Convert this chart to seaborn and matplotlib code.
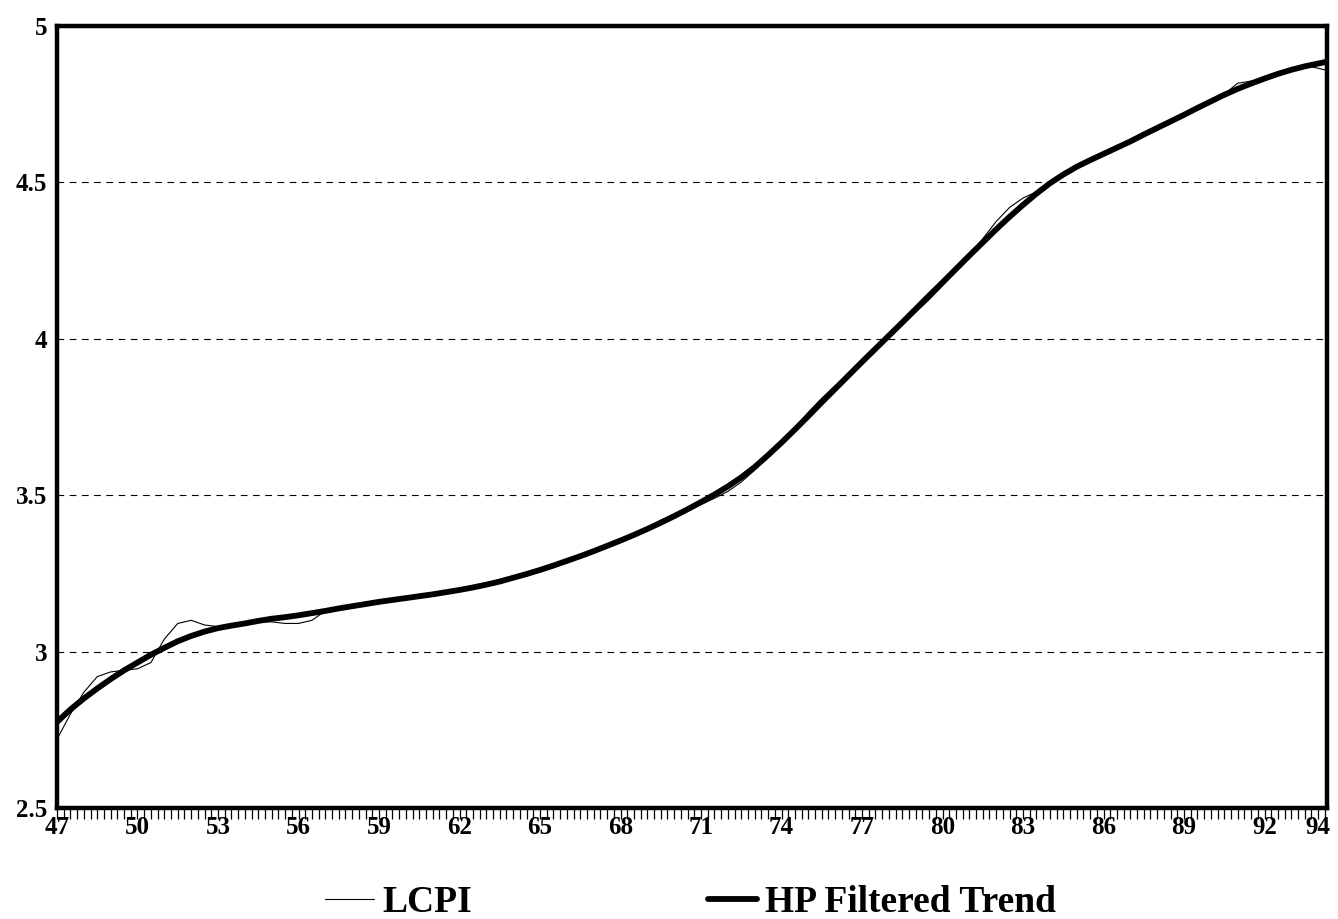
import numpy as np
import pandas as pd
import matplotlib
matplotlib.use("Agg")
import matplotlib.pyplot as plt
import seaborn as sns

# ---- data ----
years = [47.0, 47.5, 48.0, 48.5, 49.0, 49.5, 50.0, 50.5, 51.0, 51.5,
         52.0, 52.5, 53.0, 53.5, 54.0, 54.5, 55.0, 55.5, 56.0, 56.5,
         57.0, 57.5, 58.0, 58.5, 59.0, 59.5, 60.0, 60.5, 61.0, 61.5,
         62.0, 62.5, 63.0, 63.5, 64.0, 64.5, 65.0, 65.5, 66.0, 66.5,
         67.0, 67.5, 68.0, 68.5, 69.0, 69.5, 70.0, 70.5, 71.0, 71.5,
         72.0, 72.5, 73.0, 73.5, 74.0, 74.5, 75.0, 75.5, 76.0, 76.5,
         77.0, 77.5, 78.0, 78.5, 79.0, 79.5, 80.0, 80.5, 81.0, 81.5,
         82.0, 82.5, 83.0, 83.5, 84.0, 84.5, 85.0, 85.5, 86.0, 86.5,
         87.0, 87.5, 88.0, 88.5, 89.0, 89.5, 90.0, 90.5, 91.0, 91.5,
         92.0, 92.5, 93.0, 93.5, 94.0, 94.33]

lcpi_vals = [2.72, 2.80, 2.87, 2.92, 2.935, 2.94, 2.945, 2.965, 3.04, 3.09,
             3.10, 3.085, 3.08, 3.085, 3.09, 3.095, 3.095, 3.09, 3.09, 3.10,
             3.13, 3.14, 3.15, 3.158, 3.16, 3.165, 3.17, 3.175, 3.18, 3.187,
             3.195, 3.202, 3.21, 3.222, 3.235, 3.247, 3.26, 3.275, 3.29, 3.305,
             3.32, 3.337, 3.355, 3.372, 3.395, 3.42, 3.44, 3.455, 3.47, 3.49,
             3.512, 3.542, 3.58, 3.625, 3.67, 3.717, 3.765, 3.81, 3.85, 3.885,
             3.926, 3.966, 4.005, 4.045, 4.085, 4.125, 4.17, 4.218, 4.266, 4.32,
             4.375, 4.42, 4.45, 4.47, 4.50, 4.525, 4.55, 4.571, 4.591, 4.611,
             4.631, 4.653, 4.674, 4.695, 4.716, 4.738, 4.759, 4.782, 4.817, 4.824,
             4.832, 4.847, 4.86, 4.873, 4.865, 4.858]

trend_vals = [2.775, 2.815, 2.85, 2.882, 2.912, 2.94, 2.965, 2.99, 3.012, 3.033,
              3.05, 3.064, 3.075, 3.083, 3.09, 3.098, 3.105, 3.11, 3.116, 3.123,
              3.13, 3.138, 3.145, 3.152, 3.159, 3.165, 3.171, 3.177, 3.183, 3.19,
              3.197, 3.205, 3.214, 3.224, 3.236, 3.248, 3.261, 3.275, 3.29, 3.305,
              3.321, 3.338, 3.355, 3.373, 3.392, 3.412, 3.433, 3.455, 3.478, 3.502,
              3.528, 3.557, 3.59, 3.628, 3.668, 3.71, 3.753, 3.797, 3.84, 3.883,
              3.926, 3.968, 4.01, 4.052, 4.095, 4.138, 4.18, 4.223, 4.266, 4.308,
              4.35, 4.39, 4.428, 4.464, 4.497, 4.525, 4.55, 4.571, 4.591, 4.611,
              4.631, 4.653, 4.674, 4.695, 4.716, 4.738, 4.759, 4.78, 4.799, 4.816,
              4.832, 4.847, 4.86, 4.871, 4.88, 4.886]

y_ticks = [2.5, 3, 3.5, 4, 4.5, 5]
y_labels = ["2.5", "3", "3.5", "4", "4.5", "5"]
x_ticks = [47, 50, 53, 56, 59, 62, 65, 68, 71, 74, 77, 80, 83, 86, 89, 92, 94]
x_labels = ["47", "50", "53", "56", "59", "62", "65", "68", "71", "74", "77",
            "80", "83", "86", "89", "92", "94"]
grid_levels = [3, 3.5, 4, 4.5]

# ---- style ----
sns.set_style("white")
plt.rcParams['font.family'] = ['Liberation Serif', 'DejaVu Serif']
plt.rcParams['font.weight'] = 'bold'
plt.rcParams['text.color'] = 'black'
plt.rcParams['xtick.color'] = 'black'
plt.rcParams['ytick.color'] = 'black'

fig = plt.figure(figsize=(13.38, 9.19), dpi=100)
ax = fig.add_axes([0.0426, 0.1208, 0.9492, 0.8509])

df = pd.DataFrame({"year": years, "LCPI": lcpi_vals, "HP Filtered Trend": trend_vals})

for g in grid_levels:
    ax.axhline(g, color="black", lw=0.8, ls=(0, (6, 5)), zorder=1)

sns.lineplot(data=df, x="year", y="LCPI", ax=ax, color="black",
             lw=0.8, label="LCPI", zorder=3)
sns.lineplot(data=df, x="year", y="HP Filtered Trend", ax=ax, color="black",
             lw=4.2, label="HP Filtered Trend", zorder=4)

ax.set_xlim(47, 94.33)
ax.set_ylim(2.5, 5)
ax.set_xlabel("")
ax.set_ylabel("")

ax.set_yticks(y_ticks)
ax.set_yticklabels(y_labels, fontsize=18, fontweight="bold", color="black")
ax.set_xticks(x_ticks)
ax.set_xticklabels(x_labels, fontsize=18, fontweight="bold", color="black")
ax.set_xticks(np.arange(47, 94.3, 0.25), minor=True)
ax.tick_params(axis="x", which="both", direction="out", length=8, width=0.9,
               color="black", pad=-2, bottom=True)
ax.tick_params(axis="y", which="both", length=0, pad=7)

for s in ax.spines.values():
    s.set_visible(True)
    s.set_color("black")
    s.set_linewidth(3.2)

ax.get_legend().remove()
handles, labels = ax.get_legend_handles_labels()
leg = fig.legend(handles, labels, loc="center", bbox_to_anchor=(0.516, 0.018),
                 ncol=2, frameon=False, handlelength=1.3, handletextpad=0.22,
                 columnspacing=6.3, prop={"family": "Liberation Serif",
                                          "weight": "bold", "size": 27})
for t in leg.get_texts():
    t.set_color("black")

fig.savefig("out.png", dpi=100, facecolor="white")
